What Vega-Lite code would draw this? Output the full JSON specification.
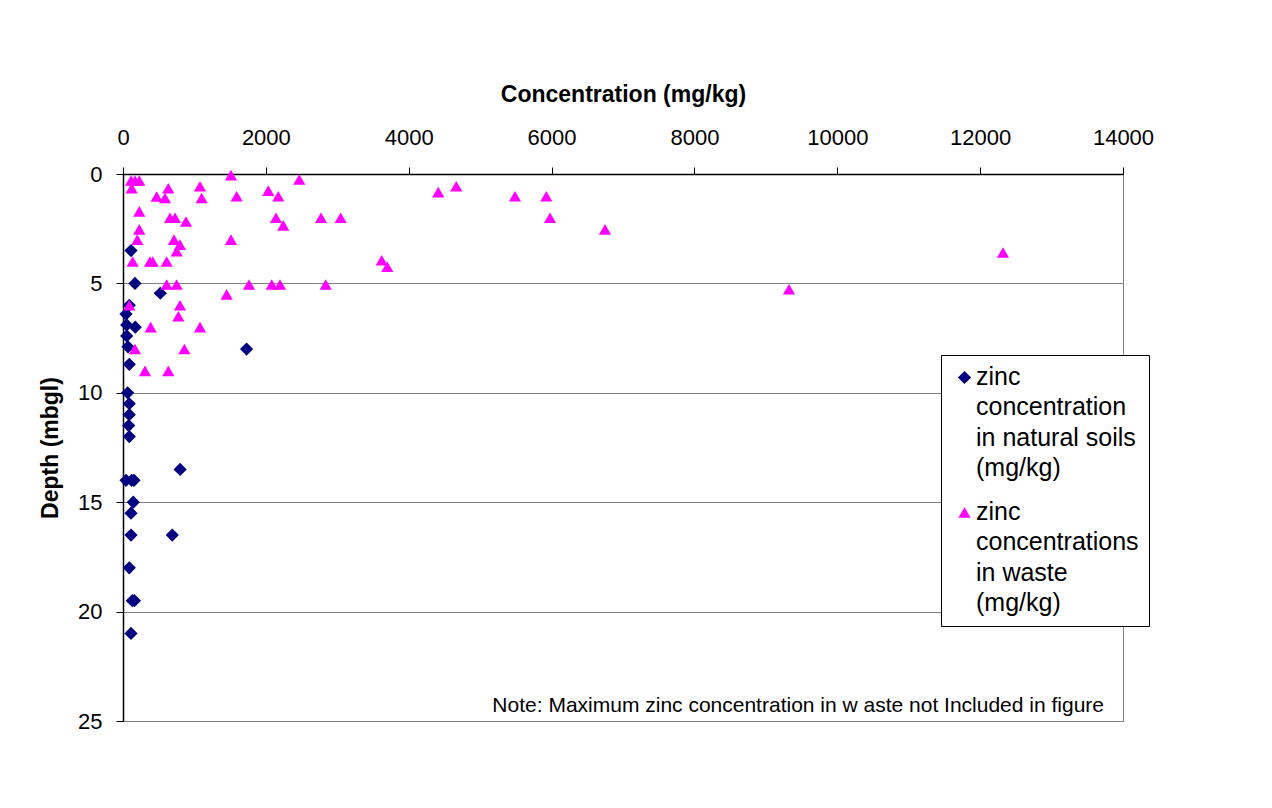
{
  "$schema": "https://vega.github.io/schema/vega-lite/v6.json",
  "width": 1000,
  "height": 547,
  "autosize": {"type": "none"},
  "padding": {"left": 123, "top": 174, "right": 149, "bottom": 87},
  "background": "white",
  "title": {
    "text": "Note: Maximum zinc concentration in w aste not Included in figure",
    "orient": "bottom",
    "anchor": "end",
    "frame": "group",
    "offset": -37,
    "dx": -19,
    "fontSize": 21,
    "fontWeight": "normal",
    "font": "Liberation Sans",
    "color": "black"
  },
  "data": {
    "values": [
      {"series": "soil", "conc": 112, "depth": 3.5},
      {"series": "soil", "conc": 168, "depth": 5.0},
      {"series": "soil", "conc": 522, "depth": 5.45},
      {"series": "soil", "conc": 88, "depth": 6.0},
      {"series": "soil", "conc": 42, "depth": 6.4},
      {"series": "soil", "conc": 52, "depth": 6.9},
      {"series": "soil", "conc": 172, "depth": 7.0},
      {"series": "soil", "conc": 52, "depth": 7.4},
      {"series": "soil", "conc": 70, "depth": 7.9},
      {"series": "soil", "conc": 1730, "depth": 8.0},
      {"series": "soil", "conc": 88, "depth": 8.7},
      {"series": "soil", "conc": 65, "depth": 10.0},
      {"series": "soil", "conc": 88, "depth": 10.5},
      {"series": "soil", "conc": 88, "depth": 11.0},
      {"series": "soil", "conc": 80, "depth": 11.5},
      {"series": "soil", "conc": 88, "depth": 12.0},
      {"series": "soil", "conc": 800, "depth": 13.5},
      {"series": "soil", "conc": 42, "depth": 14.0},
      {"series": "soil", "conc": 121, "depth": 14.0},
      {"series": "soil", "conc": 154, "depth": 14.0},
      {"series": "soil", "conc": 144, "depth": 15.0},
      {"series": "soil", "conc": 112, "depth": 15.5},
      {"series": "soil", "conc": 112, "depth": 16.5},
      {"series": "soil", "conc": 690, "depth": 16.5},
      {"series": "soil", "conc": 88, "depth": 18.0},
      {"series": "soil", "conc": 130, "depth": 19.5},
      {"series": "soil", "conc": 160, "depth": 19.5},
      {"series": "soil", "conc": 112, "depth": 21.0},
      {"series": "waste", "conc": 112, "depth": 0.3},
      {"series": "waste", "conc": 168, "depth": 0.3},
      {"series": "waste", "conc": 228, "depth": 0.3},
      {"series": "waste", "conc": 1512, "depth": 0.05},
      {"series": "waste", "conc": 2468, "depth": 0.25},
      {"series": "waste", "conc": 121, "depth": 0.65},
      {"series": "waste", "conc": 634, "depth": 0.65},
      {"series": "waste", "conc": 1078, "depth": 0.56},
      {"series": "waste", "conc": 2034, "depth": 0.76},
      {"series": "waste", "conc": 471, "depth": 1.03},
      {"series": "waste", "conc": 588, "depth": 1.1},
      {"series": "waste", "conc": 1101, "depth": 1.1},
      {"series": "waste", "conc": 1591, "depth": 1.02},
      {"series": "waste", "conc": 2174, "depth": 1.02},
      {"series": "waste", "conc": 228, "depth": 1.71},
      {"series": "waste", "conc": 658, "depth": 2.0},
      {"series": "waste", "conc": 728, "depth": 2.0},
      {"series": "waste", "conc": 882, "depth": 2.17},
      {"series": "waste", "conc": 2142, "depth": 2.0},
      {"series": "waste", "conc": 2244, "depth": 2.35},
      {"series": "waste", "conc": 2772, "depth": 2.0},
      {"series": "waste", "conc": 3047, "depth": 2.0},
      {"series": "waste", "conc": 228, "depth": 2.53},
      {"series": "waste", "conc": 200, "depth": 3.0},
      {"series": "waste", "conc": 714, "depth": 3.0},
      {"series": "waste", "conc": 1512, "depth": 3.0},
      {"series": "waste", "conc": 798, "depth": 3.23},
      {"series": "waste", "conc": 751, "depth": 3.53},
      {"series": "waste", "conc": 135, "depth": 4.0},
      {"series": "waste", "conc": 378, "depth": 4.0},
      {"series": "waste", "conc": 416, "depth": 4.0},
      {"series": "waste", "conc": 611, "depth": 4.0},
      {"series": "waste", "conc": 3622, "depth": 3.94},
      {"series": "waste", "conc": 3700, "depth": 4.24},
      {"series": "waste", "conc": 611, "depth": 5.05},
      {"series": "waste", "conc": 751, "depth": 5.05},
      {"series": "waste", "conc": 1764, "depth": 5.05},
      {"series": "waste", "conc": 2082, "depth": 5.05},
      {"series": "waste", "conc": 2198, "depth": 5.05},
      {"series": "waste", "conc": 2838, "depth": 5.05},
      {"series": "waste", "conc": 1451, "depth": 5.5},
      {"series": "waste", "conc": 88, "depth": 6.0},
      {"series": "waste", "conc": 798, "depth": 6.0},
      {"series": "waste", "conc": 775, "depth": 6.5},
      {"series": "waste", "conc": 387, "depth": 7.0},
      {"series": "waste", "conc": 1078, "depth": 7.0},
      {"series": "waste", "conc": 168, "depth": 8.0},
      {"series": "waste", "conc": 859, "depth": 8.0},
      {"series": "waste", "conc": 308, "depth": 9.0},
      {"series": "waste", "conc": 634, "depth": 9.0},
      {"series": "waste", "conc": 4414, "depth": 0.83},
      {"series": "waste", "conc": 4666, "depth": 0.56},
      {"series": "waste", "conc": 5488, "depth": 1.02},
      {"series": "waste", "conc": 5926, "depth": 1.02},
      {"series": "waste", "conc": 5978, "depth": 2.0},
      {"series": "waste", "conc": 6748, "depth": 2.53},
      {"series": "waste", "conc": 9324, "depth": 5.27},
      {"series": "waste", "conc": 12320, "depth": 3.59}
    ]
  },
  "mark": {"type": "point", "filled": true, "opacity": 1},
  "encoding": {
    "x": {
      "field": "conc",
      "type": "quantitative",
      "scale": {"domain": [0, 14000], "nice": false, "zero": true},
      "axis": {
        "orient": "top",
        "title": "Concentration (mg/kg)",
        "values": [0, 2000, 4000, 6000, 8000, 10000, 12000, 14000],
        "format": "d",
        "grid": false,
        "labelPadding": 25,
        "titlePadding": 20
      }
    },
    "y": {
      "field": "depth",
      "type": "quantitative",
      "scale": {"domain": [0, 25], "nice": false, "reverse": true},
      "axis": {
        "orient": "left",
        "title": "Depth (mbgl)",
        "values": [0, 5, 10, 15, 20, 25],
        "format": "d",
        "grid": true,
        "labelPadding": 14,
        "labelOffset": -7,
        "titlePadding": 15
      }
    },
    "size": {
      "field": "series",
      "type": "nominal",
      "scale": {"domain": ["soil", "waste"], "range": [175, 150]},
      "legend": null
    },
    "shape": {
      "field": "series",
      "type": "nominal",
      "scale": {"domain": ["soil", "waste"], "range": ["diamond", "triangle-up"]},
      "legend": {
        "title": null,
        "labelExpr": "split(datum.label == 'soil' ? 'zinc|concentration|in natural soils|(mg/kg)' : 'zinc|concentrations|in waste|(mg/kg)', '|')",
        "orient": "none",
        "legendX": 818,
        "legendY": 181
      }
    },
    "color": {
      "field": "series",
      "type": "nominal",
      "scale": {"domain": ["soil", "waste"], "range": ["#000080", "#FF00FF"]},
      "legend": {
        "title": null,
        "labelExpr": "split(datum.label == 'soil' ? 'zinc|concentration|in natural soils|(mg/kg)' : 'zinc|concentrations|in waste|(mg/kg)', '|')",
        "orient": "none",
        "legendX": 818,
        "legendY": 181
      }
    }
  },
  "config": {
    "view": {"stroke": "#808080", "strokeWidth": 1},
    "legend": {
      "strokeColor": "black",
      "fillColor": "white",
      "padding": 10,
      "symbolOffset": 1,
      "labelOffset": -1,
      "labelFontSize": 25,
      "labelFont": "Liberation Sans",
      "labelColor": "black",
      "labelLimit": 400,
      "labelBaseline": "alphabetic",
      "rowPadding": 18,
      "symbolSize": 150,
      "symbolOpacity": 1
    },
    "style": {"guide-label": {"lineHeight": 30.5, "dy": 7}},
    "axis": {
      "labelFont": "Liberation Sans",
      "labelFontSize": 22,
      "labelColor": "black",
      "titleFont": "Liberation Sans",
      "titleFontSize": 23,
      "titleFontWeight": "bold",
      "titleColor": "black",
      "domainColor": "black",
      "domainWidth": 1.5,
      "tickColor": "black",
      "tickSize": 7,
      "tickWidth": 1,
      "gridColor": "#808080",
      "gridWidth": 1,
      "gridOpacity": 1,
      "labelOverlap": false,
      "labelFlush": false
    }
  }
}
